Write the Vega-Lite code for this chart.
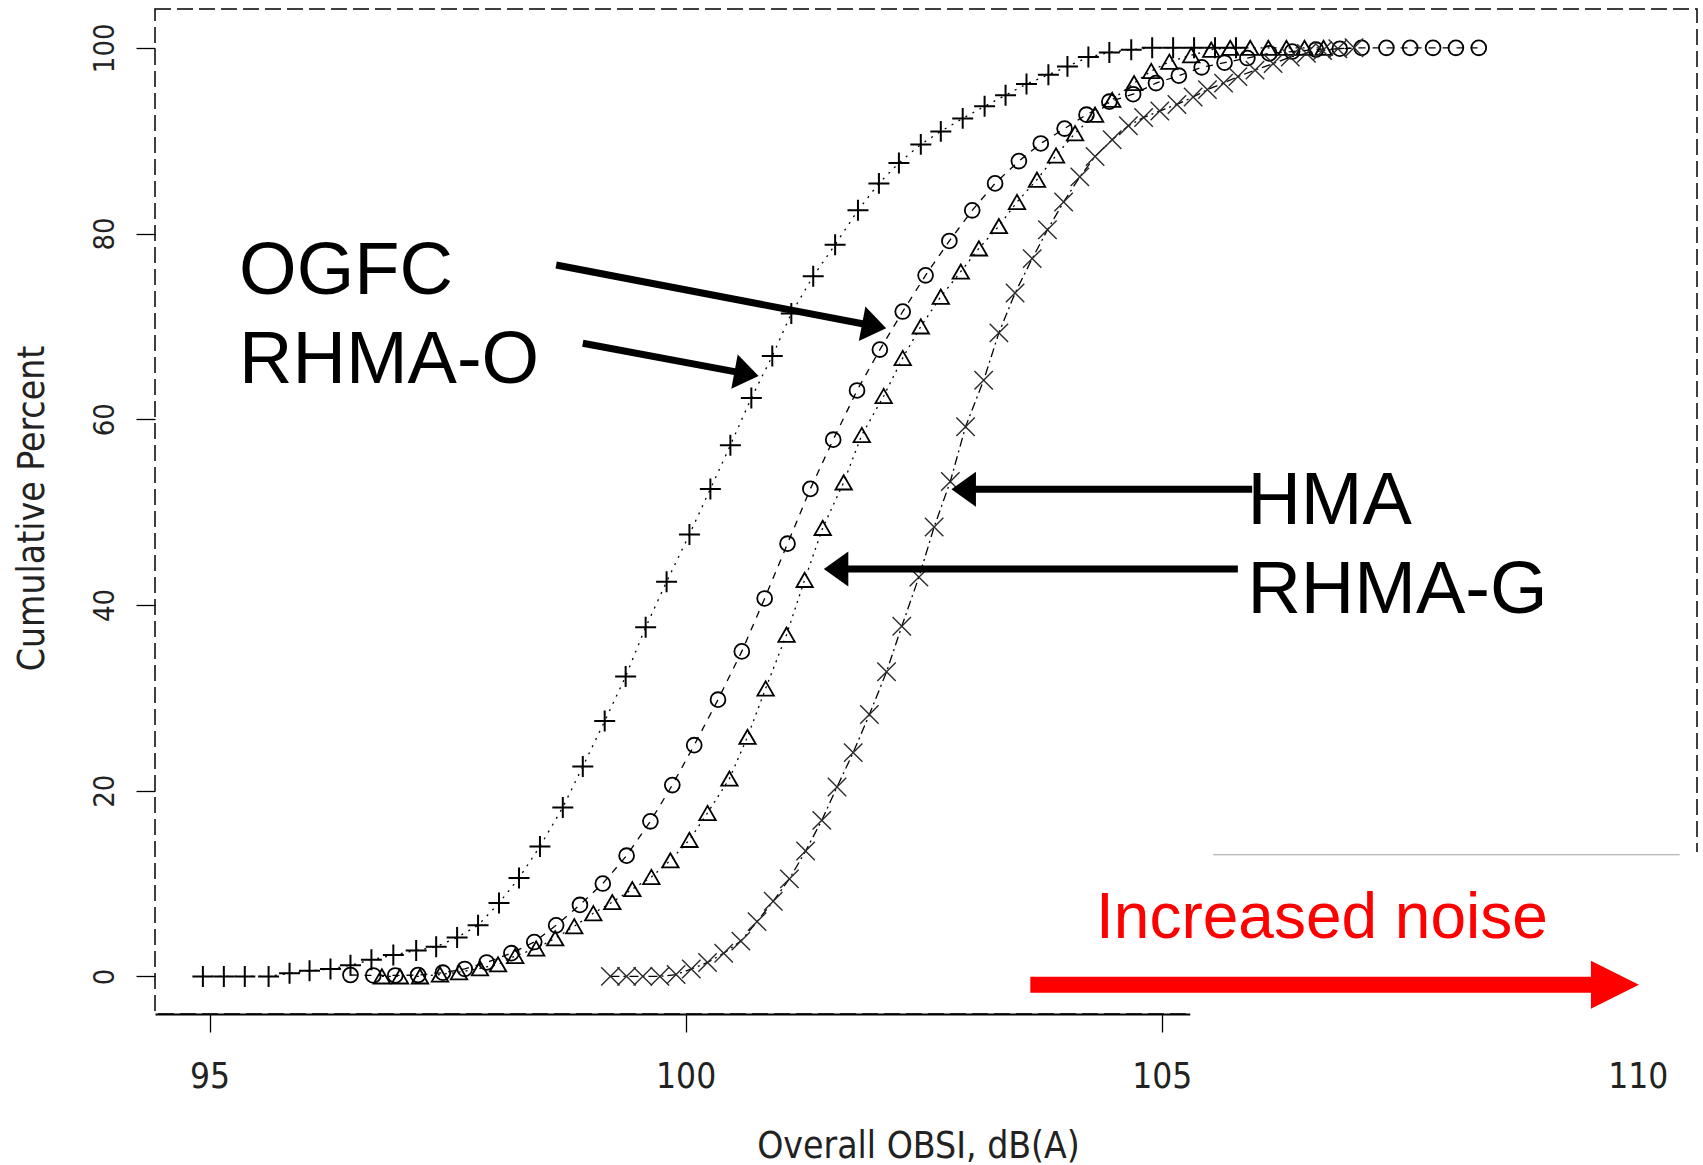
{
  "$schema": "https://vega.github.io/schema/vega-lite/v6.json",
  "width": 1542,
  "height": 1005,
  "autosize": "none",
  "padding": {"left": 155, "top": 9, "right": 6, "bottom": 151},
  "background": "white",
  "config": {
    "view": {"stroke": "#000", "strokeWidth": 1.5, "strokeDash": [16, 6]},
    "axis": {"zindex": 0, "grid": false, "tickColor": "#000", "tickWidth": 1.3, "labelColor": "#222", "titleColor": "#222", "labelFont": "Liberation Sans Narrow, DejaVu Sans Condensed, sans-serif", "titleFont": "Liberation Sans Narrow, DejaVu Sans Condensed, sans-serif", "titleFontWeight": "normal"}
  },
  "datasets": {
    "curves": [
      {"series": "RHMA-O", "x": 94.93, "y": 0}, {"series": "RHMA-O", "x": 95.15, "y": 0}, {"series": "RHMA-O", "x": 95.37, "y": 0}, {"series": "RHMA-O", "x": 95.62, "y": 0}, {"series": "RHMA-O", "x": 95.84, "y": 0.33}, {"series": "RHMA-O", "x": 96.05, "y": 0.6}, {"series": "RHMA-O", "x": 96.27, "y": 0.8}, {"series": "RHMA-O", "x": 96.48, "y": 1.2}, {"series": "RHMA-O", "x": 96.7, "y": 1.8}, {"series": "RHMA-O", "x": 96.93, "y": 2.3}, {"series": "RHMA-O", "x": 97.17, "y": 2.8}, {"series": "RHMA-O", "x": 97.38, "y": 3.2}, {"series": "RHMA-O", "x": 97.6, "y": 4.2}, {"series": "RHMA-O", "x": 97.82, "y": 5.5}, {"series": "RHMA-O", "x": 98.04, "y": 7.9}, {"series": "RHMA-O", "x": 98.25, "y": 10.6}, {"series": "RHMA-O", "x": 98.47, "y": 14.0}, {"series": "RHMA-O", "x": 98.71, "y": 18.2}, {"series": "RHMA-O", "x": 98.92, "y": 22.6}, {"series": "RHMA-O", "x": 99.15, "y": 27.5}, {"series": "RHMA-O", "x": 99.37, "y": 32.3}, {"series": "RHMA-O", "x": 99.58, "y": 37.6}, {"series": "RHMA-O", "x": 99.8, "y": 42.5}, {"series": "RHMA-O", "x": 100.04, "y": 47.6}, {"series": "RHMA-O", "x": 100.26, "y": 52.5}, {"series": "RHMA-O", "x": 100.47, "y": 57.2}, {"series": "RHMA-O", "x": 100.69, "y": 62.3}, {"series": "RHMA-O", "x": 100.91, "y": 66.8}, {"series": "RHMA-O", "x": 101.11, "y": 71.4}, {"series": "RHMA-O", "x": 101.34, "y": 75.4}, {"series": "RHMA-O", "x": 101.57, "y": 78.8}, {"series": "RHMA-O", "x": 101.81, "y": 82.5}, {"series": "RHMA-O", "x": 102.03, "y": 85.4}, {"series": "RHMA-O", "x": 102.24, "y": 87.6}, {"series": "RHMA-O", "x": 102.47, "y": 89.6}, {"series": "RHMA-O", "x": 102.68, "y": 91.0}, {"series": "RHMA-O", "x": 102.91, "y": 92.4}, {"series": "RHMA-O", "x": 103.14, "y": 93.7}, {"series": "RHMA-O", "x": 103.36, "y": 94.9}, {"series": "RHMA-O", "x": 103.58, "y": 96.1}, {"series": "RHMA-O", "x": 103.81, "y": 97.1}, {"series": "RHMA-O", "x": 104.01, "y": 98.0}, {"series": "RHMA-O", "x": 104.23, "y": 99.0}, {"series": "RHMA-O", "x": 104.45, "y": 99.5}, {"series": "RHMA-O", "x": 104.68, "y": 99.8}, {"series": "RHMA-O", "x": 104.9, "y": 100}, {"series": "RHMA-O", "x": 105.12, "y": 100}, {"series": "RHMA-O", "x": 105.34, "y": 100}, {"series": "RHMA-O", "x": 105.56, "y": 100}, {"series": "RHMA-O", "x": 105.78, "y": 100},
      {"series": "OGFC", "x": 96.48, "y": 0.15}, {"series": "OGFC", "x": 96.72, "y": 0.1}, {"series": "OGFC", "x": 96.95, "y": 0.1}, {"series": "OGFC", "x": 97.19, "y": 0.15}, {"series": "OGFC", "x": 97.45, "y": 0.4}, {"series": "OGFC", "x": 97.68, "y": 0.8}, {"series": "OGFC", "x": 97.91, "y": 1.5}, {"series": "OGFC", "x": 98.17, "y": 2.5}, {"series": "OGFC", "x": 98.41, "y": 3.7}, {"series": "OGFC", "x": 98.64, "y": 5.5}, {"series": "OGFC", "x": 98.89, "y": 7.7}, {"series": "OGFC", "x": 99.13, "y": 10.0}, {"series": "OGFC", "x": 99.38, "y": 13.0}, {"series": "OGFC", "x": 99.63, "y": 16.7}, {"series": "OGFC", "x": 99.86, "y": 20.6}, {"series": "OGFC", "x": 100.09, "y": 24.9}, {"series": "OGFC", "x": 100.34, "y": 29.8}, {"series": "OGFC", "x": 100.59, "y": 35.0}, {"series": "OGFC", "x": 100.83, "y": 40.7}, {"series": "OGFC", "x": 101.07, "y": 46.6}, {"series": "OGFC", "x": 101.31, "y": 52.5}, {"series": "OGFC", "x": 101.55, "y": 57.8}, {"series": "OGFC", "x": 101.8, "y": 63.1}, {"series": "OGFC", "x": 102.04, "y": 67.5}, {"series": "OGFC", "x": 102.28, "y": 71.6}, {"series": "OGFC", "x": 102.52, "y": 75.5}, {"series": "OGFC", "x": 102.77, "y": 79.2}, {"series": "OGFC", "x": 103.01, "y": 82.5}, {"series": "OGFC", "x": 103.25, "y": 85.4}, {"series": "OGFC", "x": 103.5, "y": 87.8}, {"series": "OGFC", "x": 103.73, "y": 89.7}, {"series": "OGFC", "x": 103.98, "y": 91.3}, {"series": "OGFC", "x": 104.21, "y": 92.8}, {"series": "OGFC", "x": 104.45, "y": 94.2}, {"series": "OGFC", "x": 104.7, "y": 95.0}, {"series": "OGFC", "x": 104.94, "y": 96.2}, {"series": "OGFC", "x": 105.18, "y": 97.0}, {"series": "OGFC", "x": 105.42, "y": 97.9}, {"series": "OGFC", "x": 105.66, "y": 98.4}, {"series": "OGFC", "x": 105.9, "y": 98.9}, {"series": "OGFC", "x": 106.13, "y": 99.4}, {"series": "OGFC", "x": 106.37, "y": 99.6}, {"series": "OGFC", "x": 106.62, "y": 99.8}, {"series": "OGFC", "x": 106.87, "y": 99.9}, {"series": "OGFC", "x": 107.1, "y": 100}, {"series": "OGFC", "x": 107.36, "y": 100}, {"series": "OGFC", "x": 107.61, "y": 100}, {"series": "OGFC", "x": 107.85, "y": 100}, {"series": "OGFC", "x": 108.09, "y": 100}, {"series": "OGFC", "x": 108.33, "y": 100},
      {"series": "RHMA-G", "x": 96.81, "y": 0}, {"series": "RHMA-G", "x": 97.0, "y": 0}, {"series": "RHMA-G", "x": 97.21, "y": 0}, {"series": "RHMA-G", "x": 97.42, "y": 0.2}, {"series": "RHMA-G", "x": 97.62, "y": 0.45}, {"series": "RHMA-G", "x": 97.84, "y": 0.87}, {"series": "RHMA-G", "x": 98.03, "y": 1.3}, {"series": "RHMA-G", "x": 98.21, "y": 2.2}, {"series": "RHMA-G", "x": 98.43, "y": 3.0}, {"series": "RHMA-G", "x": 98.63, "y": 4.1}, {"series": "RHMA-G", "x": 98.83, "y": 5.4}, {"series": "RHMA-G", "x": 99.03, "y": 6.8}, {"series": "RHMA-G", "x": 99.23, "y": 8.0}, {"series": "RHMA-G", "x": 99.44, "y": 9.4}, {"series": "RHMA-G", "x": 99.64, "y": 10.7}, {"series": "RHMA-G", "x": 99.84, "y": 12.5}, {"series": "RHMA-G", "x": 100.04, "y": 14.7}, {"series": "RHMA-G", "x": 100.23, "y": 17.6}, {"series": "RHMA-G", "x": 100.46, "y": 21.3}, {"series": "RHMA-G", "x": 100.65, "y": 25.8}, {"series": "RHMA-G", "x": 100.84, "y": 31.0}, {"series": "RHMA-G", "x": 101.06, "y": 36.8}, {"series": "RHMA-G", "x": 101.25, "y": 42.7}, {"series": "RHMA-G", "x": 101.44, "y": 48.3}, {"series": "RHMA-G", "x": 101.66, "y": 53.2}, {"series": "RHMA-G", "x": 101.85, "y": 58.3}, {"series": "RHMA-G", "x": 102.08, "y": 62.5}, {"series": "RHMA-G", "x": 102.28, "y": 66.6}, {"series": "RHMA-G", "x": 102.47, "y": 70.0}, {"series": "RHMA-G", "x": 102.68, "y": 73.2}, {"series": "RHMA-G", "x": 102.89, "y": 75.9}, {"series": "RHMA-G", "x": 103.08, "y": 78.4}, {"series": "RHMA-G", "x": 103.29, "y": 80.8}, {"series": "RHMA-G", "x": 103.48, "y": 83.4}, {"series": "RHMA-G", "x": 103.69, "y": 85.8}, {"series": "RHMA-G", "x": 103.89, "y": 88.4}, {"series": "RHMA-G", "x": 104.09, "y": 90.8}, {"series": "RHMA-G", "x": 104.3, "y": 92.8}, {"series": "RHMA-G", "x": 104.48, "y": 94.4}, {"series": "RHMA-G", "x": 104.71, "y": 96.2}, {"series": "RHMA-G", "x": 104.89, "y": 97.5}, {"series": "RHMA-G", "x": 105.08, "y": 98.5}, {"series": "RHMA-G", "x": 105.31, "y": 99.2}, {"series": "RHMA-G", "x": 105.52, "y": 99.8}, {"series": "RHMA-G", "x": 105.72, "y": 100}, {"series": "RHMA-G", "x": 105.93, "y": 100}, {"series": "RHMA-G", "x": 106.12, "y": 100}, {"series": "RHMA-G", "x": 106.31, "y": 100}, {"series": "RHMA-G", "x": 106.5, "y": 100}, {"series": "RHMA-G", "x": 106.7, "y": 100},
      {"series": "HMA", "x": 99.21, "y": 0}, {"series": "HMA", "x": 99.38, "y": 0}, {"series": "HMA", "x": 99.55, "y": 0}, {"series": "HMA", "x": 99.73, "y": 0}, {"series": "HMA", "x": 99.9, "y": 0.2}, {"series": "HMA", "x": 100.06, "y": 0.8}, {"series": "HMA", "x": 100.23, "y": 1.5}, {"series": "HMA", "x": 100.4, "y": 2.5}, {"series": "HMA", "x": 100.58, "y": 3.8}, {"series": "HMA", "x": 100.75, "y": 5.9}, {"series": "HMA", "x": 100.92, "y": 8.1}, {"series": "HMA", "x": 101.09, "y": 10.5}, {"series": "HMA", "x": 101.26, "y": 13.5}, {"series": "HMA", "x": 101.43, "y": 16.8}, {"series": "HMA", "x": 101.59, "y": 20.4}, {"series": "HMA", "x": 101.76, "y": 24.1}, {"series": "HMA", "x": 101.93, "y": 28.2}, {"series": "HMA", "x": 102.11, "y": 32.8}, {"series": "HMA", "x": 102.27, "y": 37.7}, {"series": "HMA", "x": 102.45, "y": 43.0}, {"series": "HMA", "x": 102.61, "y": 48.4}, {"series": "HMA", "x": 102.78, "y": 53.3}, {"series": "HMA", "x": 102.94, "y": 59.2}, {"series": "HMA", "x": 103.13, "y": 64.2}, {"series": "HMA", "x": 103.29, "y": 69.3}, {"series": "HMA", "x": 103.46, "y": 73.6}, {"series": "HMA", "x": 103.64, "y": 77.3}, {"series": "HMA", "x": 103.8, "y": 80.4}, {"series": "HMA", "x": 103.97, "y": 83.4}, {"series": "HMA", "x": 104.14, "y": 86.1}, {"series": "HMA", "x": 104.3, "y": 88.3}, {"series": "HMA", "x": 104.48, "y": 90.1}, {"series": "HMA", "x": 104.65, "y": 91.6}, {"series": "HMA", "x": 104.81, "y": 92.5}, {"series": "HMA", "x": 104.98, "y": 93.2}, {"series": "HMA", "x": 105.16, "y": 93.9}, {"series": "HMA", "x": 105.33, "y": 94.7}, {"series": "HMA", "x": 105.48, "y": 95.5}, {"series": "HMA", "x": 105.65, "y": 96.2}, {"series": "HMA", "x": 105.8, "y": 96.9}, {"series": "HMA", "x": 105.98, "y": 97.6}, {"series": "HMA", "x": 106.17, "y": 98.3}, {"series": "HMA", "x": 106.35, "y": 99.0}, {"series": "HMA", "x": 106.52, "y": 99.4}, {"series": "HMA", "x": 106.69, "y": 99.7}, {"series": "HMA", "x": 106.85, "y": 99.9}, {"series": "HMA", "x": 107.02, "y": 100}
    ],
    "box": [{"x": 105.3, "x2": 110.8, "y": -7.2, "y2": 13.4}],
    "grayline": [{"x": 105.54, "x2": 110.44, "y": 13.1, "y2": 13.1}],
    "shafts": [
      {"x": 98.64, "y": 76.61, "x2": 101.98, "y2": 70.04},
      {"x": 98.92, "y": 68.18, "x2": 100.64, "y2": 64.89},
      {"x": 105.95, "y": 52.45, "x2": 102.92, "y2": 52.45},
      {"x": 105.8, "y": 43.87, "x2": 101.58, "y2": 43.87}
    ],
    "heads": [
      {"x": 101.98, "y": 70.04, "angle": 10.86},
      {"x": 100.64, "y": 64.89, "angle": 10.58},
      {"x": 102.92, "y": 52.45, "angle": 180},
      {"x": 101.58, "y": 43.87, "angle": 180}
    ],
    "labels": [
      {"x": 95.31, "y": 73.5, "text": "OGFC"},
      {"x": 95.31, "y": 63.9, "text": "RHMA-O"},
      {"x": 105.9, "y": 48.7, "text": "HMA"},
      {"x": 105.9, "y": 39.1, "text": "RHMA-G"}
    ],
    "note": [{"x": 104.31, "y": 4.1, "text": "Increased noise"}],
    "redshaft": [{"x": 103.62, "x2": 109.6, "y": -0.9, "y2": -0.9}],
    "redhead": [{"x": 109.76, "y": -0.9}]
  },
  "encoding": {
    "x": {"field": "x", "type": "quantitative", "scale": {"domain": [94.427, 110.622], "nice": false, "zero": false},
      "axis": {"values": [95, 100, 105, 110], "title": "Overall OBSI, dB(A)", "domain": true, "domainColor": "#000", "domainWidth": 2, "tickSize": 18, "labelFontSize": 35, "labelPadding": 27, "labelFlush": false, "titleFontSize": 37, "titleBaseline": "alphabetic", "titleX": 763, "titleY": 143, "titleAnchor": "middle", "titleAlign": "center"}},
    "y": {"field": "y", "type": "quantitative", "scale": {"domain": [-4.05, 104.18], "nice": false, "zero": false},
      "axis": {"values": [0, 20, 40, 60, 80, 100], "title": "Cumulative Percent", "domain": false, "tickSize": 19, "labelFontSize": 29, "labelAngle": 270, "labelAlign": "center", "labelBaseline": "alphabetic", "labelPadding": 23, "labelFlush": false, "titleFontSize": 37, "titleAngle": 270, "titleAlign": "center", "titleBaseline": "alphabetic", "titleX": -112, "titleY": 499}}
  },
  "layer": [
    {
      "data": {"name": "curves"},
      "mark": {"type": "line", "strokeWidth": 1.3, "color": "#000"},
      "encoding": {
        "detail": {"field": "series", "type": "nominal"},
        "strokeDash": {"field": "series", "type": "nominal", "legend": null, "scale": {"domain": ["RHMA-O", "OGFC", "RHMA-G", "HMA"], "range": [[2, 6], [7, 7], [2, 5], [9, 4, 2, 4]]}}
      }
    },
    {
      "data": {"name": "curves"},
      "transform": [{"filter": "datum.series === 'RHMA-O'"}],
      "mark": {"type": "point", "filled": false, "opacity": 1, "shape": "M-1,0L1,0M0,-1L0,1", "size": 440, "strokeWidth": 2, "stroke": "#000"}
    },
    {
      "data": {"name": "curves"},
      "transform": [{"filter": "datum.series === 'OGFC'"}],
      "mark": {"type": "point", "filled": false, "opacity": 1, "shape": "circle", "size": 220, "strokeWidth": 1.8, "stroke": "#000"}
    },
    {
      "data": {"name": "curves"},
      "transform": [{"filter": "datum.series === 'RHMA-G'"}],
      "mark": {"type": "point", "filled": false, "opacity": 1, "shape": "triangle-up", "size": 270, "strokeWidth": 1.8, "stroke": "#000"}
    },
    {
      "data": {"name": "curves"},
      "transform": [{"filter": "datum.series === 'HMA'"}],
      "mark": {"type": "point", "filled": false, "opacity": 1, "shape": "M-1,-1L1,1M-1,1L1,-1", "size": 340, "strokeWidth": 1.4, "stroke": "#2a2a2a"}
    },
    {
      "data": {"name": "box"},
      "mark": {"type": "rect", "fill": "#ffffff", "stroke": null},
      "encoding": {"x2": {"field": "x2"}, "y2": {"field": "y2"}}
    },
    {
      "data": {"name": "grayline"},
      "mark": {"type": "rule", "color": "#a0a0a0", "strokeWidth": 1.2},
      "encoding": {"x2": {"field": "x2"}, "y2": {"field": "y2"}}
    },
    {
      "data": {"name": "shafts"},
      "mark": {"type": "rule", "color": "#000", "strokeWidth": 7, "strokeCap": "butt"},
      "encoding": {"x2": {"field": "x2"}, "y2": {"field": "y2"}}
    },
    {
      "data": {"name": "heads"},
      "mark": {"type": "point", "shape": "M-0.7,-1L0.7,0L-0.7,1Z", "size": 1225, "filled": true, "color": "#000", "opacity": 1},
      "encoding": {"angle": {"field": "angle", "type": "quantitative", "scale": null}}
    },
    {
      "data": {"name": "labels"},
      "mark": {"type": "text", "font": "Liberation Sans, Arial, sans-serif", "fontSize": 74, "align": "left", "baseline": "alphabetic", "color": "#000"},
      "encoding": {"text": {"field": "text"}}
    },
    {
      "data": {"name": "note"},
      "mark": {"type": "text", "font": "Liberation Sans, Arial, sans-serif", "fontSize": 64, "align": "left", "baseline": "alphabetic", "color": "#ff0000"},
      "encoding": {"text": {"field": "text"}}
    },
    {
      "data": {"name": "redshaft"},
      "mark": {"type": "rule", "color": "#ff0000", "strokeWidth": 16, "strokeCap": "butt"},
      "encoding": {"x2": {"field": "x2"}, "y2": {"field": "y2"}}
    },
    {
      "data": {"name": "redhead"},
      "mark": {"type": "point", "shape": "M-1,-1L1,0L-1,1Z", "size": 2304, "filled": true, "color": "#ff0000", "opacity": 1},
      "encoding": {}
    }
  ]
}
